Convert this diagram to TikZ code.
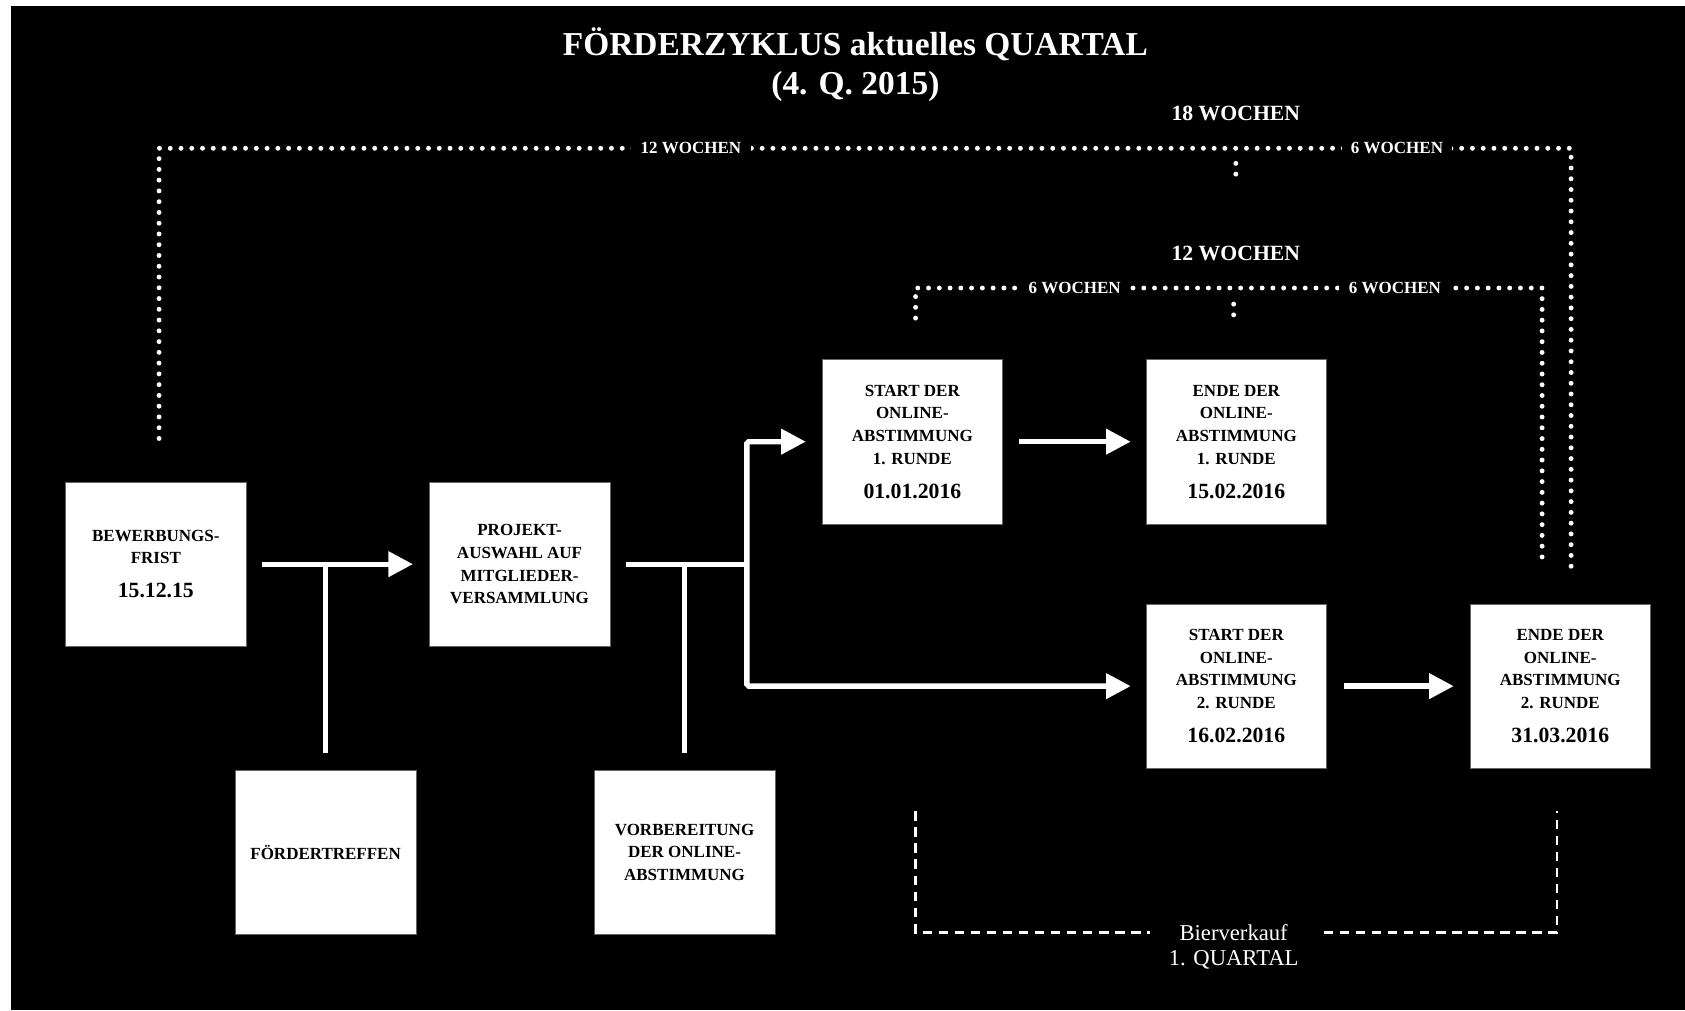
\documentclass[tikz,border=0pt]{standalone}
\usepackage{fontspec}
\setmainfont{Liberation Serif}
\usetikzlibrary{arrows.meta, calc, positioning}
\newcommand{\datum}[1]{\\[6pt]{\fontsize{11.5}{12}\selectfont #1}}
\tikzset{
    x=0.02cm, y=-0.02cm, % one unit is one pixel of the sketch, y runs downwards
    box/.style = {rectangle, fill=white, draw=black!60, line width=0.3pt, minimum width=3.36cm, minimum height=3.06cm, inner sep=0pt, align=center, text=black, font=\bfseries\fontsize{9}{12}\selectfont}, % the white step boxes
    link/.style = {draw=white, line width=2.8pt}, % plain white line
    flow/.style = {link, -{Triangle[length=13pt, width=13pt]}}, % white line with arrow head
    weeks/.style = {draw=white, line width=2.6pt, line cap=round, dash pattern=on 0pt off 5.7pt}, % dotted week brackets
    sale/.style = {draw=white, line width=1.4pt, dash pattern=on 5pt off 3.5pt}, % dashed bracket at the bottom
    wlabel/.style = {fill=black, text=white, inner xsep=5pt, inner ysep=1pt, font=\bfseries\fontsize{9}{10}\selectfont},
    span/.style = {text=white, font=\bfseries\fontsize{11.5}{13}\selectfont},
    title/.style = {text=white, align=center, font=\bfseries\fontsize{17.7}{20.4}\selectfont}
}
\begin{document}
\begin{tikzpicture}
    % background
    \useasboundingbox (0,0) rectangle (1568,940);
    \fill[white] (0,0) rectangle (1568,940);
    \fill[black] (10,5.5) rectangle (1568,940);

    \node[title] (title) at (796,60) {FÖRDERZYKLUS aktuelles QUARTAL\\(4. Q. 2015)};

    % the steps
    \node[box] (frist) at (145,525) {BEWERBUNGS-\\FRIST\datum{15.12.15}};
    \node[box] (auswahl) [right=3.4cm of frist] {PROJEKT-\\AUSWAHL AUF\\MITGLIEDER-\\VERSAMMLUNG};
    \node[box] (treffen) at (303,793) {FÖRDERTREFFEN};
    \node[box] (vorbereitung) at (637,793) {VORBEREITUNG\\DER ONLINE-\\ABSTIMMUNG};
    \node[box] (start1) at (849,411) {START DER\\ONLINE-\\ABSTIMMUNG\\1. RUNDE\datum{01.01.2016}};
    \node[box] (ende1) [right=2.66cm of start1] {ENDE DER\\ONLINE-\\ABSTIMMUNG\\1. RUNDE\datum{15.02.2016}};
    \node[box] (start2) [below=1.48cm of ende1] {START DER\\ONLINE-\\ABSTIMMUNG\\2. RUNDE\datum{16.02.2016}};
    \node[box] (ende2) [right=2.66cm of start2] {ENDE DER\\ONLINE-\\ABSTIMMUNG\\2. RUNDE\datum{31.03.2016}};

    % arrows between the steps
    \draw[flow, shorten <=8.5pt, shorten >=8.5pt] (frist) -- (auswahl);
    \draw[link, shorten >=9pt] (frist -| treffen) -- (treffen.north);
    \coordinate (split) at (695,525);
    \draw[link, shorten <=8.5pt] (auswahl.east) -- (split);
    \draw[link, shorten >=9pt] (auswahl -| vorbereitung) -- (vorbereitung.north);
    \draw[flow, rounded corners=1pt, shorten >=8.5pt] (split) |- (start1.west);
    \draw[flow, rounded corners=1pt, shorten >=8pt] (split) |- (start2.west);
    \draw[flow, shorten <=8.5pt, shorten >=8pt] (start1) -- (ende1);
    \draw[flow, shorten <=9pt, shorten >=8.5pt] (start2) -- (ende2);

    % week brackets on top
    \coordinate (q1) at (148,408);
    \coordinate (q2) at (1462,528);
    \draw[weeks] (q1) -- ++(0,-270) -| (q2);
    \draw[weeks] (1150,152) -- (1150,167);
    \node[span] (w18) at (1150,106) {18 WOCHEN};
    \node[wlabel] at (643,138) {12 WOCHEN};
    \node[wlabel] at (1300,138) {6 WOCHEN};

    \coordinate (r1) at (852,296);
    \coordinate (r2) at (1435,522);
    \draw[weeks] (r1) -- ++(0,-28) -| (r2);
    \draw[weeks] (1148,283) -- (1148,297);
    \node[span] (w12) at (1150,236) {12 WOCHEN};
    \node[wlabel] at (1000,268) {6 WOCHEN};
    \node[wlabel] at (1298,268) {6 WOCHEN};

    % beer sale bracket
    \coordinate (s1) at (852,755);
    \coordinate (s2) at (1449,755);
    \draw[sale] (s1) |- (1449,868) -- (s2);
    \node[fill=black, text=white, align=center, inner xsep=10pt, inner ysep=1pt, font=\fontsize{12}{13}\selectfont] (bier) at (1148,881) {Bierverkauf\\1. QUARTAL};
\end{tikzpicture}
\end{document}
